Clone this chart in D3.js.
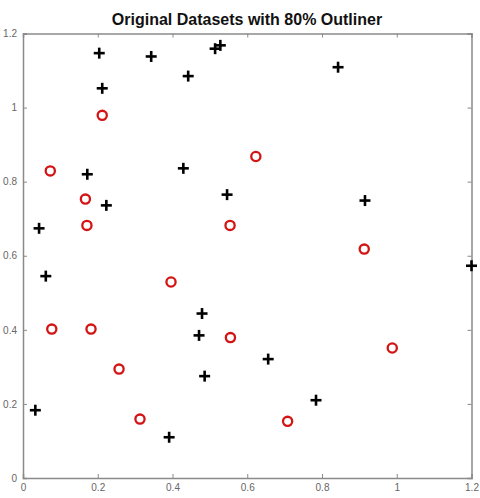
<!DOCTYPE html>
<html>
<head>
<meta charset="utf-8">
<script src="https://cdn.jsdelivr.net/npm/d3@7"></script>
<style>
  body { margin: 0; background: #fff; }
  svg { display: block; }
</style>
</head>
<body>
<svg id="chart" width="480" height="498"></svg>
<script>
// Inliers (black plus markers)
const inlierX = [0.204, 0.212, 0.343, 0.514, 0.528, 0.442, 0.843, 0.172, 0.223, 0.043, 0.429,
                 0.546, 0.915, 0.061, 1.200, 0.479, 0.471, 0.486, 0.656, 0.784, 0.033, 0.391];
const inlierY = [1.147, 1.052, 1.138, 1.159, 1.168, 1.085, 1.109, 0.820, 0.736, 0.674, 0.836,
                 0.765, 0.749, 0.545, 0.573, 0.444, 0.385, 0.275, 0.321, 0.210, 0.183, 0.110];

// Outliers (red circle markers)
const outlierX = [0.212, 0.073, 0.167, 0.171, 0.554, 0.623, 0.913, 0.396, 0.077, 0.182,
                  0.555, 0.257, 0.313, 0.988, 0.708];
const outlierY = [0.979, 0.829, 0.753, 0.682, 0.682, 0.868, 0.618, 0.529, 0.402, 0.402,
                  0.379, 0.294, 0.159, 0.351, 0.153];

const xTicks = [0, 0.2, 0.4, 0.6, 0.8, 1, 1.2];
const yTicks = [0, 0.2, 0.4, 0.6, 0.8, 1, 1.2];
const titleText = "Original Datasets with 80% Outliner";

const svg = d3.select("#chart");
const plotLeft = 23, plotRight = 471.5, plotTop = 33.5, plotBottom = 478;

const x = d3.scaleLinear().domain([0, 1.2]).range([plotLeft, plotRight]);
const y = d3.scaleLinear().domain([0, 1.2]).range([plotBottom, plotTop]);

const axisColor = "#8a8a8a";
const labelColor = "#666";
const fmt = d => d3.format("")(d);

// Axes on all four sides with inward ticks
const axisBottom = d3.axisBottom(x).tickValues(xTicks).tickSize(-4).tickPadding(6).tickFormat(fmt);
const axisTop = d3.axisTop(x).tickValues(xTicks).tickSize(-4).tickFormat("");
const axisLeft = d3.axisLeft(y).tickValues(yTicks).tickSize(-4).tickPadding(6).tickFormat(fmt);
const axisRight = d3.axisRight(y).tickValues(yTicks).tickSize(-4).tickFormat("");

function styleAxis(g) {
  g.selectAll("path.domain").attr("stroke", axisColor).attr("stroke-width", 1.5);
  g.selectAll(".tick line").attr("stroke", axisColor).attr("stroke-width", 1);
  g.selectAll(".tick text")
    .attr("fill", labelColor)
    .style("font-family", "'Liberation Sans', Arial, sans-serif")
    .style("font-size", "10px");
}

svg.append("g").attr("transform", `translate(0,${plotBottom})`).call(axisBottom).call(styleAxis);
svg.append("g").attr("transform", `translate(0,${plotTop})`).call(axisTop).call(styleAxis);
svg.append("g").attr("transform", `translate(${plotLeft},0)`).call(axisLeft).call(styleAxis);
svg.append("g").attr("transform", `translate(${plotRight},0)`).call(axisRight).call(styleAxis);

// Title
svg.append("text")
  .attr("x", 247)
  .attr("y", 25)
  .attr("text-anchor", "middle")
  .style("font-family", "'Liberation Sans', Arial, sans-serif")
  .style("font-weight", "bold")
  .style("font-size", "16px")
  .attr("fill", "#111")
  .text(titleText);

const inliers = inlierX.map((v, i) => ({ x: v, y: inlierY[i] }));
const outliers = outlierX.map((v, i) => ({ x: v, y: outlierY[i] }));

// Inlier plus markers
const half = 5.5;
const gPlus = svg.append("g").attr("stroke", "#000").attr("stroke-width", 2.6);
gPlus.selectAll("g.plus")
  .data(inliers)
  .join("g")
  .attr("class", "plus")
  .attr("transform", d => `translate(${x(d.x)},${y(d.y)})`)
  .each(function () {
    const g = d3.select(this);
    g.append("line").attr("x1", -half).attr("x2", half).attr("y1", 0).attr("y2", 0);
    g.append("line").attr("x1", 0).attr("x2", 0).attr("y1", -half).attr("y2", half);
  });

// Outlier circle markers
svg.append("g")
  .selectAll("circle")
  .data(outliers)
  .join("circle")
  .attr("cx", d => x(d.x))
  .attr("cy", d => y(d.y))
  .attr("r", 4.6)
  .attr("fill", "none")
  .attr("stroke", "#d41414")
  .attr("stroke-width", 2.3);
</script>
</body>
</html>
